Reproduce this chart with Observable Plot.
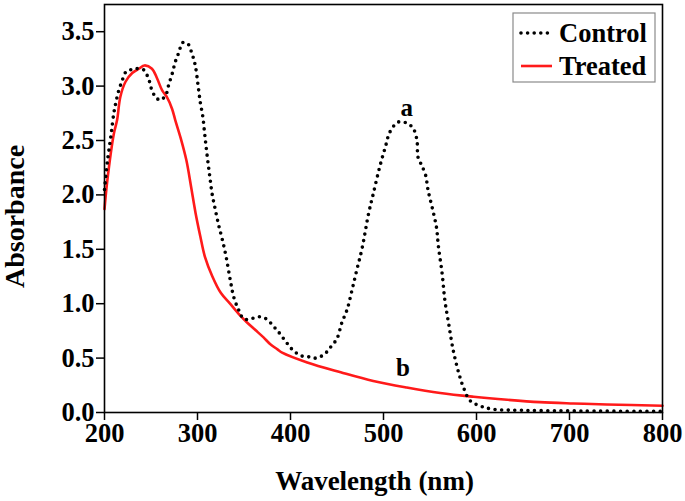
<!DOCTYPE html>
<html>
<head>
<meta charset="utf-8">
<script src="https://cdn.jsdelivr.net/npm/d3@7"></script>
<script src="https://cdn.jsdelivr.net/npm/@observablehq/plot@0.6"></script>
<style>
  html, body { margin: 0; padding: 0; background: #fff; }
  #chart svg { display: block; }
</style>
</head>
<body>
<div id="chart"></div>
<script>
// Wavelength (nm) and absorbance
const controlWavelength = [200,203,207,210,212,215,219,223,228,233,242,248,251,255,260,266,269,273,276,280,284,289.5,294,297.6,300.7,303,305.7,307.5,309.3,311.4,313.5,315.7,319,322.8,326.4,330.8,335.4,339,344.4,349.7,357,366,374,382,389,396,403,412,421,428,437,443,450,455,461,466,471,477,484,489,496,502,507,516,525,532,536,537,540,545,548,553,557,559,563,566,570,575,581,586,593,604,618,650,700,800];
const controlAbs = [2.05,2.30,2.55,2.75,2.84,2.95,3.05,3.13,3.15,3.16,3.15,3.05,2.96,2.90,2.87,2.92,3.01,3.12,3.22,3.31,3.40,3.39,3.30,3.19,3.00,2.85,2.72,2.58,2.44,2.29,2.15,2.01,1.87,1.72,1.60,1.43,1.21,1.06,0.94,0.86,0.86,0.88,0.86,0.79,0.72,0.64,0.57,0.52,0.51,0.50,0.54,0.60,0.68,0.82,0.95,1.12,1.30,1.51,1.83,2.01,2.26,2.44,2.58,2.67,2.66,2.61,2.50,2.35,2.29,2.19,2.04,1.86,1.70,1.53,1.28,1.03,0.82,0.57,0.36,0.23,0.11,0.06,0.03,0.02,0.015,0.01];

const treatedWavelength = [200,203,210,213.6,217,222.6,229.8,237,243,251,256.6,262,267,272.7,276,282,288,293,298,303,308,316,325,335,345,353,362,371,378,386,391,418,454,489,525,561,597,633,668,704,740,800];
const treatedAbs = [1.87,2.13,2.56,2.69,2.90,3.04,3.12,3.16,3.19,3.16,3.07,2.96,2.90,2.79,2.69,2.52,2.32,2.08,1.83,1.62,1.43,1.25,1.10,1.00,0.90,0.83,0.76,0.69,0.63,0.58,0.55,0.46,0.37,0.29,0.23,0.18,0.145,0.117,0.095,0.083,0.074,0.062];

const xTicks = [200,300,400,500,600,700,800];
const yTicks = [0,0.5,1.0,1.5,2.0,2.5,3.0,3.5];

const annotations = [
  {x: 525, y: 2.80, text: "a"},
  {x: 521, y: 0.41, text: "b"}
];
const seriesNames = ["Control", "Treated"];

const control = controlWavelength.map((w, i) => ({w, a: controlAbs[i]}));
const treated = treatedWavelength.map((w, i) => ({w, a: treatedAbs[i]}));

const font = "Liberation Serif, Times New Roman, serif";
const W = 685, H = 501;
const mL = 104, mR = 23, mT = 4, mB = 89;

const chart = Plot.plot({
  width: W,
  height: H,
  marginLeft: mL,
  marginRight: mR,
  marginTop: mT,
  marginBottom: mB,
  style: {fontFamily: font, fontWeight: "bold", background: "#fff", color: "#000"},
  x: {domain: [200, 800]},
  y: {domain: [0, 3.75]},
  marks: [
    Plot.axisX({ticks: xTicks, tickSize: 8, tickPadding: 3, fontSize: 26.5, fontWeight: "bold", label: null, strokeWidth: 1.5}),
    Plot.axisY({ticks: yTicks, tickSize: 8, tickPadding: 2, fontSize: 26.5, fontWeight: "bold", tickFormat: d3.format(".1f"), label: null, strokeWidth: 1.5}),
    Plot.line(treated, {x: "w", y: "a", stroke: "#ff1a1a", strokeWidth: 2.6, curve: "catmull-rom"}),
    Plot.line(control, {x: "w", y: "a", stroke: "#000", strokeWidth: 3.6, strokeDasharray: "0 6.6", strokeLinecap: "round", curve: "catmull-rom"}),
    Plot.text(annotations, {x: "x", y: "y", text: "text", fontSize: 25, fontWeight: "bold", fill: "#000"}),
    Plot.text(["Wavelength (nm)"], {frameAnchor: "bottom", textAnchor: "middle", dx: -9, dy: 77, fontSize: 27, fontWeight: "bold", fill: "#000"}),
    Plot.text(["Absorbance"], {frameAnchor: "left", textAnchor: "middle", dx: -89, dy: 8, rotate: -90, fontSize: 28, fontWeight: "bold", fill: "#000"}),
    Plot.frame({stroke: "#000", strokeWidth: 1.6})
  ]
});

document.getElementById("chart").appendChild(chart);

// Legend inside the top-right corner of the frame
const svg = d3.select(chart);
const fr = W - mR; // frame right
const lg = svg.append("g").attr("font-family", font).attr("font-weight", "bold").attr("font-size", 26.5).attr("text-anchor", "start");
const bx = fr - 149, by = mT + 9, bw = 142, bh = 69;
lg.append("rect").attr("x", bx).attr("y", by).attr("width", bw).attr("height", bh)
  .attr("fill", "#fff").attr("stroke", "#8a8a8a").attr("stroke-width", 1.2);
const styles = [
  {stroke: "#000", width: 3.6, dash: "0 6.6", cap: "round"},
  {stroke: "#ff1a1a", width: 2.6, dash: null, cap: "butt"}
];
seriesNames.forEach((name, i) => {
  const cy = by + 20 + i * 33;
  lg.append("line").attr("x1", bx + 8).attr("x2", bx + 39).attr("y1", cy).attr("y2", cy)
    .attr("stroke", styles[i].stroke).attr("stroke-width", styles[i].width)
    .attr("stroke-dasharray", styles[i].dash).attr("stroke-linecap", styles[i].cap);
  lg.append("text").attr("x", bx + 46).attr("y", cy + 9).attr("fill", "#000").attr("text-anchor", "start").text(name);
});
</script>
</body>
</html>
